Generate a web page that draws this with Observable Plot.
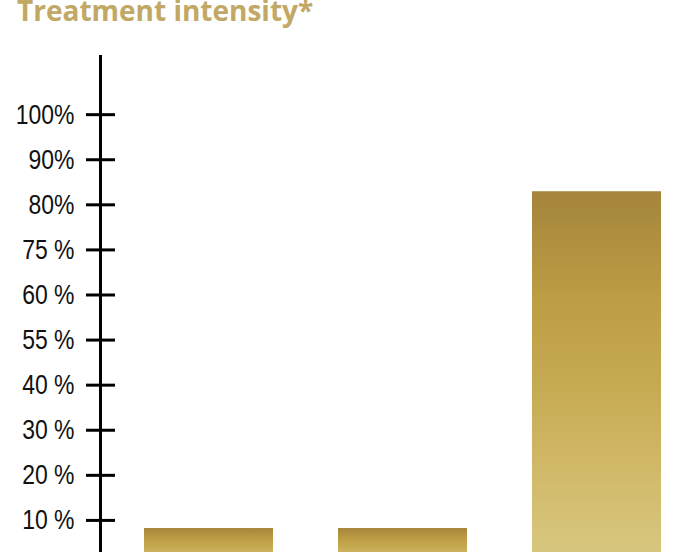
<!DOCTYPE html>
<html>
<head>
<meta charset="utf-8">
<script src="https://cdn.jsdelivr.net/npm/d3@7"></script>
<script src="https://cdn.jsdelivr.net/npm/@observablehq/plot@0.6"></script>
<style>
  html, body { margin: 0; padding: 0; background: #fff; overflow: hidden; }
  #wrap { position: relative; width: 687px; height: 552px; }
  #title { position: absolute; left: 17px; top: -4px; font-family: "Open Sans", Lato, sans-serif; font-weight: 700; font-size: 28px; line-height: 28px; color: #c1a865; white-space: nowrap; z-index: 2; }
  #chart { position: absolute; left: 0; top: 0; }
</style>
</head>
<body>
<div id="wrap">
  <div id="title">Treatment intensity*</div>
  <div id="chart"></div>
</div>
<script>
// Data (bar heights expressed in tick-position units: tick k sits at position k)
const categories = ["Group 1", "Group 2", "Group 3"];
const values = [0.82, 0.82, 8.29];
const tickPositions = [1, 2, 3, 4, 5, 6, 7, 8, 9, 10];
const tickLabels = ["10 %", "20 %", "30 %", "40 %", "55 %", "60 %", "75 %", "80%", "90%", "100%"];

const data = categories.map((c, i) => ({category: c, value: values[i]}));

const chart = Plot.plot({
  width: 687,
  height: 552,
  marginLeft: 100,
  marginRight: 0,
  marginTop: 56,
  marginBottom: 0,
  style: {fontFamily: "'Liberation Sans', Arial, sans-serif", background: "transparent", overflow: "hidden"},
  x: {type: "band", domain: categories, range: [143, 663], paddingInner: 0.333, paddingOuter: 0, axis: null},
  y: {domain: [0, 11.29], range: [565, 56], axis: null},
  marks: [
    Plot.barY(data, {x: "category", y: "value", fill: "url(#goldGrad)"}),
    Plot.frame({anchor: "left", stroke: "#000", strokeWidth: 3}),
    Plot.axisY({
      ticks: tickPositions,
      tickFormat: (d) => tickLabels[tickPositions.indexOf(d)],
      label: null,
      tickSize: 29,
      tickPadding: 12,
      dx: 15,
      stroke: "#000",
      strokeWidth: 3,
      strokeOpacity: 1,
      fontSize: 28,
      fill: "#111",
      textAnchor: "end"
    })
  ]
});

chart.insertAdjacentHTML("afterbegin",
  `<defs><linearGradient id="goldGrad" x1="0" y1="0" x2="0" y2="1">
     <stop offset="0%" stop-color="#a4853b"/>
     <stop offset="28%" stop-color="#bb9d44"/>
     <stop offset="50%" stop-color="#c5a950"/>
     <stop offset="70%" stop-color="#cfb664"/>
     <stop offset="100%" stop-color="#d8c981"/>
   </linearGradient></defs>`);

// Narrow the tick labels horizontally (condensed look, right edge kept in place)
chart.querySelectorAll("text").forEach((t) => {
  const tr = t.getAttribute("transform") || "";
  t.setAttribute("transform", (tr + " scale(0.82,1)").trim());
});

document.getElementById("chart").appendChild(chart);
</script>
</body>
</html>
